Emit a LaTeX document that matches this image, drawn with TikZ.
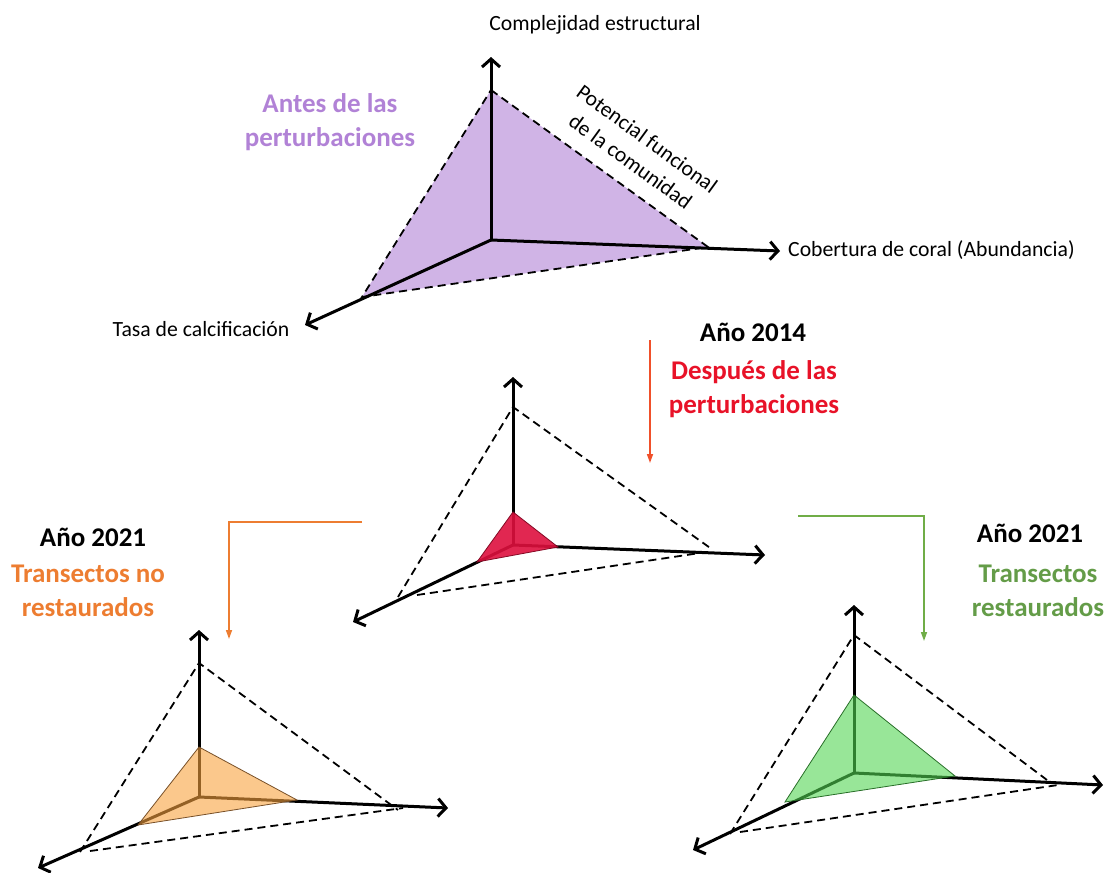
\documentclass[tikz,border=0pt]{standalone}
\usepackage{fontspec}
\setmainfont{Carlito}
\usetikzlibrary{arrows.meta,positioning}

\definecolor{lila}{RGB}{208,180,230}
\definecolor{lilatexto}{RGB}{177,130,214}
\definecolor{rojo}{RGB}{222,16,62}
\definecolor{rojotexto}{RGB}{232,18,40}
\definecolor{rojoflecha}{RGB}{240,80,42}
\definecolor{naranja}{RGB}{248,163,63}
\definecolor{naranjaborde}{RGB}{120,80,40}
\definecolor{naranjatexto}{RGB}{237,125,49}
\definecolor{verde}{RGB}{83,213,83}
\definecolor{verdeborde}{RGB}{40,110,40}
\definecolor{verdetexto}{RGB}{100,156,72}
\definecolor{verdeflecha}{RGB}{112,173,71}

\tikzset{
  eje/.style={line width=3pt, -{Straight Barb[length=8pt,width=18pt]}},
  borde/.style={line width=1.8pt, dash pattern=on 8pt off 5pt},
  etiqueta/.style={font=\fontsize{21.7}{26}\selectfont, inner sep=0pt},
  titulo/.style={font=\fontsize{27}{34}\selectfont\bfseries, align=center, inner sep=0pt},
  paso/.style={line width=1.6pt, -{Triangle[length=9pt,width=6pt]}}
}

\begin{document}
\begin{tikzpicture}[x=1pt, y=-1pt]
  \useasboundingbox (0,0) rectangle (1104,873);

  % antes de las perturbaciones
  \coordinate (o1) at (491,240);
  \coordinate (t1) at (491,90);
  \coordinate (r1) at (708,247);
  \coordinate (l1) at (362,297);
  \fill[lila] (t1) -- (r1) -- (l1) -- cycle;
  \draw[borde] (t1) -- (r1) -- (l1) -- cycle;
  \node[etiqueta] (complejidad) at (595,25) {Complejidad estructural};
  \node[etiqueta, anchor=west] (cobertura) at (788,250) {Cobertura de coral (Abundancia)};
  \node[etiqueta] (calcificacion) at (201,329) {Tasa de calcificación};
  \draw[eje] (o1) -- (491,57);
  \draw[eje] (o1) -- (780,251);
  \draw[eje] (o1) -- (305,325);
  \node[etiqueta, font=\fontsize{21.7}{28}\selectfont, align=center, rotate=-36]
    (potencial) at (639,150) {Potencial funcional\\de la comunidad};
  \node[titulo, text=lilatexto] (antes) at (330,122) {Antes de las\\perturbaciones};

  % año 2014
  \coordinate (o2) at (513,545);
  \coordinate (t2) at (513,407);
  \draw[borde] (398,597) -- (t2) -- (713,550);
  \draw[borde] (417,595) -- (700,553);
  \draw[eje] (o2) -- (513,377);
  \draw[eje] (o2) -- (765,555);
  \draw[eje] (o2) -- (353,622);
  \fill[rojo, fill opacity=0.9, draw=rojo!60!black, line width=0.8pt]
    (513,512) -- (558,547) -- (477,562) -- cycle;
  \node[titulo] (anio14) at (753,332) {Año 2014};
  \node[titulo, text=rojotexto] (despues) at (754,389) {Después de las\\perturbaciones};
  \coordinate (rojoa) at (650,340);
  \coordinate (rojob) at (650,463);
  \draw[paso, rojoflecha] (rojoa) -- (rojob);

  % año 2021, no restaurados
  \coordinate (o3) at (199,797);
  \coordinate (t3) at (199,663);
  \draw[borde] (80,852) -- (t3) -- (398,810);
  \draw[borde] (90,851) -- (403,808);
  \draw[eje] (o3) -- (199,630);
  \draw[eje] (o3) -- (448,808);
  \draw[eje] (o3) -- (38,868);
  \fill[naranja, fill opacity=0.6, draw=naranjaborde, line width=0.8pt]
    (199,747) -- (297,800) -- (138,825) -- cycle;
  \node[titulo] (anio21a) at (93,537) {Año 2021};
  \node[titulo, text=naranjatexto] (norest) at (88,591) {Transectos no\\restaurados};
  \coordinate (naranjaa) at (362,522);
  \coordinate (naranjab) at (229,639);
  \draw[paso, naranjatexto] (naranjaa) -| (naranjab);

  % año 2021, restaurados
  \coordinate (o4) at (854,773);
  \coordinate (t4) at (854,635);
  \draw[borde] (730,834) -- (t4) -- (1047,780);
  \draw[borde] (740,832) -- (1058,785);
  \draw[eje] (o4) -- (854,605);
  \draw[eje] (o4) -- (1103,785);
  \draw[eje] (o4) -- (693,850);
  \fill[verde, fill opacity=0.6, draw=verdeborde, line width=0.8pt]
    (854,695) -- (955,776) -- (785,802) -- cycle;
  \node[titulo] (anio21b) at (1030,533) {Año 2021};
  \node[titulo, text=verdetexto] (rest) at (1038,591) {Transectos\\restaurados};
  \coordinate (verdea) at (798,516);
  \coordinate (verdeb) at (924,641);
  \draw[paso, verdeflecha] (verdea) -| (verdeb);
\end{tikzpicture}
\end{document}
